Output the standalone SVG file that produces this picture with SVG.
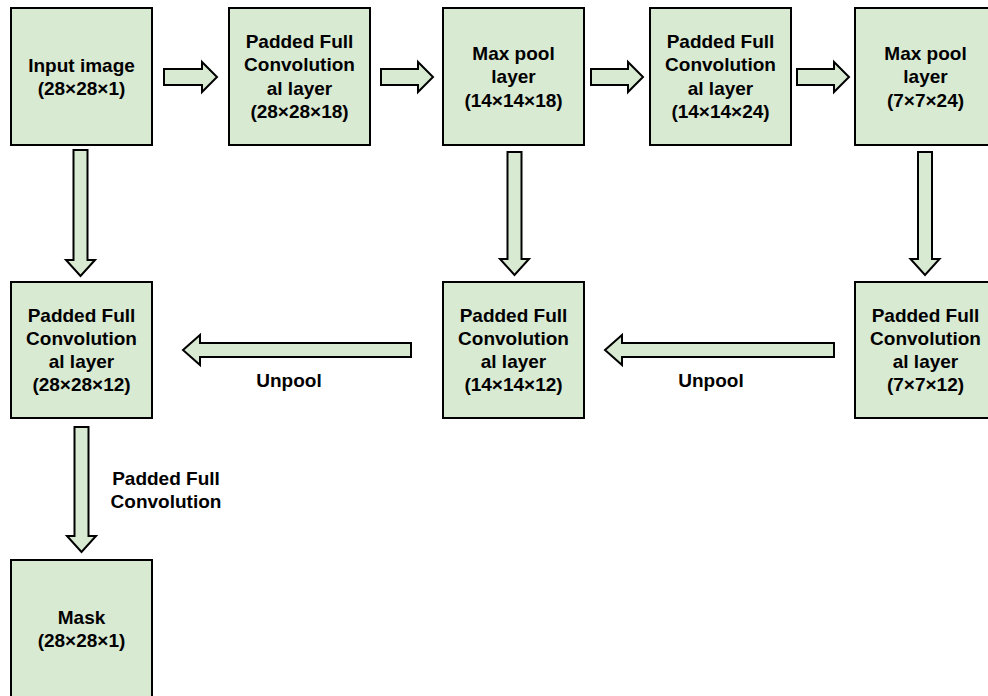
<svg xmlns="http://www.w3.org/2000/svg" width="988" height="696" viewBox="0 0 988 696">
  <style>
    .box { fill: #d9ead3; stroke: #000; stroke-width: 2; }
    .arrow { fill: #d9ead3; stroke: #000; stroke-width: 2; stroke-linejoin: miter; }
    text { font-family: "Liberation Sans", Arial, sans-serif; font-weight: bold; font-size: 19px; fill: #000; text-anchor: middle; }
  </style>
  <rect width="988" height="696" fill="#fff"/>

  <!-- connectors -->
  <g id="connectors">
    <!-- top row, left to right -->
    <path class="arrow" d="M164,69 H202 V62 L217,77 L202,92 V85 H164 Z"/>
    <path class="arrow" d="M381,69 H418 V62 L433,77 L418,92 V85 H381 Z"/>
    <path class="arrow" d="M591,69 H628 V62 L643,77 L628,92 V85 H591 Z"/>
    <path class="arrow" d="M797,69 H834 V62 L849,77 L834,92 V85 H797 Z"/>
    <!-- downward -->
    <path class="arrow" d="M73.5,150 H87.5 V260 H95 L80.5,276 L66,260 H73.5 Z"/>
    <path class="arrow" d="M507.5,152 H521.5 V259 H529 L514.5,275 L500,259 H507.5 Z"/>
    <path class="arrow" d="M918,152 H932 V259 H939.5 L925,275 L910.5,259 H918 Z"/>
    <path class="arrow" d="M74.5,427 H88.5 V536 H96 L81.5,552 L67,536 H74.5 Z"/>
    <!-- unpool, right to left -->
    <path class="arrow" d="M411,343 V357 H200 V365 L183,350 L200,335 V343 Z"/>
    <path class="arrow" d="M834,343 V357 H622 V365 L605,350 L622,335 V343 Z"/>
    <text x="289" y="387">Unpool</text>
    <text x="711" y="387">Unpool</text>
    <text x="166" y="485">Padded Full</text>
    <text x="166" y="508">Convolution</text>
  </g>

  <g id="input">
    <rect class="box" x="11" y="8" width="141" height="137"/>
    <text x="81.5" y="71.5">Input image</text>
    <text x="81.5" y="94.8">(28×28×1)</text>
  </g>

  <g id="conv1">
    <rect class="box" x="229" y="8" width="141" height="137"/>
    <text x="299.5" y="48">Padded Full</text>
    <text x="299.5" y="71.3">Convolution</text>
    <text x="299.5" y="94.6">al layer</text>
    <text x="299.5" y="117.9">(28×28×18)</text>
  </g>

  <g id="pool1">
    <rect class="box" x="443" y="8" width="141" height="137"/>
    <text x="513.5" y="60">Max pool</text>
    <text x="513.5" y="83.3">layer</text>
    <text x="513.5" y="106.6">(14×14×18)</text>
  </g>

  <g id="conv2">
    <rect class="box" x="650" y="8" width="141" height="137"/>
    <text x="720.5" y="48">Padded Full</text>
    <text x="720.5" y="71.3">Convolution</text>
    <text x="720.5" y="94.6">al layer</text>
    <text x="720.5" y="117.9">(14×14×24)</text>
  </g>

  <g id="pool2">
    <rect class="box" x="855" y="8" width="141" height="137"/>
    <text x="925.5" y="60">Max pool</text>
    <text x="925.5" y="83.3">layer</text>
    <text x="925.5" y="106.6">(7×7×24)</text>
  </g>

  <g id="conv3">
    <rect class="box" x="855" y="282" width="141" height="136"/>
    <text x="925.5" y="321.5">Padded Full</text>
    <text x="925.5" y="344.8">Convolution</text>
    <text x="925.5" y="368.1">al layer</text>
    <text x="925.5" y="391.4">(7×7×12)</text>
  </g>

  <g id="conv4">
    <rect class="box" x="443" y="282" width="141" height="136"/>
    <text x="513.5" y="321.5">Padded Full</text>
    <text x="513.5" y="344.8">Convolution</text>
    <text x="513.5" y="368.1">al layer</text>
    <text x="513.5" y="391.4">(14×14×12)</text>
  </g>

  <g id="conv5">
    <rect class="box" x="11" y="282" width="141" height="136"/>
    <text x="81.5" y="321.5">Padded Full</text>
    <text x="81.5" y="344.8">Convolution</text>
    <text x="81.5" y="368.1">al layer</text>
    <text x="81.5" y="391.4">(28×28×12)</text>
  </g>

  <g id="mask">
    <rect class="box" x="11" y="560" width="141" height="140"/>
    <text x="81.5" y="623.5">Mask</text>
    <text x="81.5" y="646.8">(28×28×1)</text>
  </g>
</svg>
